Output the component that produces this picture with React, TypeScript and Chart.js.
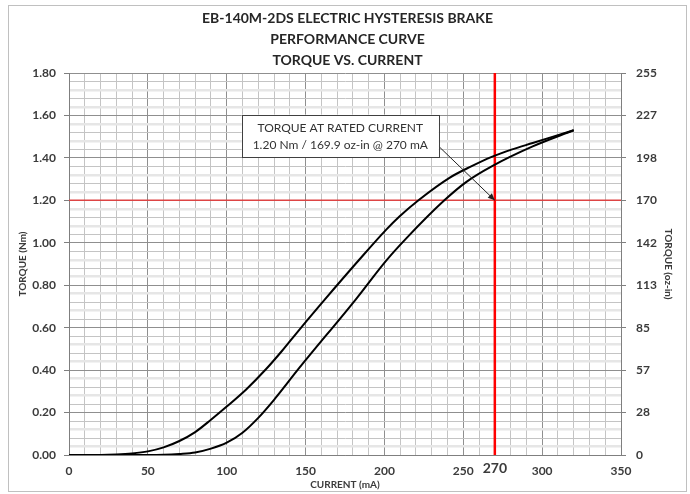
import React, { useEffect, useRef } from "react";
import { Chart, registerables } from "chart.js";

Chart.register(...registerables);

// ---------- data ----------
const titleLines = [
  "EB-140M-2DS ELECTRIC HYSTERESIS BRAKE",
  "PERFORMANCE CURVE",
  "TORQUE VS. CURRENT",
];

// upper branch (decreasing current)
const upperCurrent = [0, 20, 30, 40, 50, 60, 70, 80, 90, 100, 112.5, 125, 135, 146, 162, 184, 201, 209.5, 222, 241, 255, 268, 281, 294, 307, 320];
const upperTorque = [0, 0, 0.002, 0.007, 0.017, 0.036, 0.066, 0.108, 0.166, 0.228, 0.31, 0.405, 0.49, 0.59, 0.731, 0.92, 1.061, 1.124, 1.203, 1.305, 1.36, 1.405, 1.44, 1.47, 1.5, 1.53];

// lower branch (increasing current)
const lowerCurrent = [0, 50, 60, 70, 80, 90, 100, 110, 120, 130, 146, 182, 201, 214, 238, 252, 268, 294, 320];
const lowerTorque = [0, 0, 0.001, 0.005, 0.012, 0.03, 0.058, 0.105, 0.175, 0.26, 0.41, 0.735, 0.915, 1.022, 1.2, 1.287, 1.36, 1.454, 1.53];

const xTickLabels = ["0", "50", "100", "150", "200", "250", "300", "350"];
const leftTickLabels = ["0.00", "0.20", "0.40", "0.60", "0.80", "1.00", "1.20", "1.40", "1.60", "1.80"];
const rightTickLabels = ["0", "28", "57", "85", "113", "142", "170", "198", "227", "255"];

const ratedCurrent = 270;
const ratedTorque = 1.2;
const NM_TO_OZIN = 141.6119;

const annotationLines = ["TORQUE AT RATED CURRENT", "1.20 Nm / 169.9 oz-in @ 270 mA"];
// annotation box placement in data units (mA, Nm)
const annotationBox = { xMin: 109.5, xMax: 234.5, yMin: 1.404, yMax: 1.604 };
const arrowFrom = { x: 234.5, y: 1.454 };

const FONT = "Lato, 'Open Sans', 'DejaVu Sans', sans-serif";
const GRID_DARK = "#8f8f8f";
const GRID_MID = "#c4c4c4";
const GRID_LIGHT = "#e6e6e6";
const TEXT = "#3b3b3b";

const toPoints = (xs: number[], ys: number[]) => xs.map((x, i) => ({ x, y: ys[i] }));

const annotationPlugin = {
  id: "ratedAnnotation",
  afterDatasetsDraw(chart: any) {
    const { ctx, scales } = chart;
    const xs = scales.x;
    const ys = scales.y;
    const l = xs.getPixelForValue(annotationBox.xMin);
    const r = xs.getPixelForValue(annotationBox.xMax);
    const t = ys.getPixelForValue(annotationBox.yMax);
    const b = ys.getPixelForValue(annotationBox.yMin);
    ctx.save();
    // arrow
    const ax0 = xs.getPixelForValue(arrowFrom.x);
    const ay0 = ys.getPixelForValue(arrowFrom.y);
    const ax1 = xs.getPixelForValue(ratedCurrent);
    const ay1 = ys.getPixelForValue(ratedTorque);
    ctx.strokeStyle = "#222";
    ctx.fillStyle = "#222";
    ctx.lineWidth = 1;
    ctx.beginPath();
    ctx.moveTo(ax0, ay0);
    ctx.lineTo(ax1, ay1);
    ctx.stroke();
    const ang = Math.atan2(ay1 - ay0, ax1 - ax0);
    const hl = 7;
    const hw = 3;
    ctx.beginPath();
    ctx.moveTo(ax1, ay1);
    ctx.lineTo(ax1 - hl * Math.cos(ang) + hw * Math.sin(ang), ay1 - hl * Math.sin(ang) - hw * Math.cos(ang));
    ctx.lineTo(ax1 - hl * Math.cos(ang) - hw * Math.sin(ang), ay1 - hl * Math.sin(ang) + hw * Math.cos(ang));
    ctx.closePath();
    ctx.fill();
    // box
    ctx.fillStyle = "#ffffff";
    ctx.fillRect(l, t, r - l, b - t);
    ctx.strokeStyle = "#404040";
    ctx.lineWidth = 1;
    ctx.strokeRect(Math.round(l) + 0.5, Math.round(t) + 0.5, Math.round(r - l), Math.round(b - t));
    ctx.fillStyle = "#333";
    ctx.font = `12px ${FONT}`;
    ctx.textAlign = "center";
    ctx.textBaseline = "middle";
    const cx = (l + r) / 2;
    const h = b - t;
    ctx.fillText(annotationLines[0], cx, t + h * 0.33);
    ctx.fillText(annotationLines[1], cx, t + h * 0.72);

    // rated current label on the x axis
    ctx.fillStyle = TEXT;
    ctx.font = `bold 14px ${FONT}`;
    ctx.textAlign = "center";
    ctx.textBaseline = "middle";
    ctx.fillText(String(ratedCurrent), ax1, chart.chartArea.bottom + 13);
    ctx.restore();
  },
};

export default function App() {
  const canvasRef = useRef<HTMLCanvasElement | null>(null);

  useEffect(() => {
    if (!canvasRef.current) return;
    const chart = new Chart(canvasRef.current, {
      type: "line",
      data: {
        datasets: [
          {
            data: toPoints(upperCurrent, upperTorque),
            borderColor: "#000",
            borderWidth: 2,
            pointRadius: 0,
            cubicInterpolationMode: "monotone",
            fill: false,
          },
          {
            data: toPoints(lowerCurrent, lowerTorque),
            borderColor: "#000",
            borderWidth: 2,
            pointRadius: 0,
            cubicInterpolationMode: "monotone",
            fill: false,
          },
          {
            data: [
              { x: ratedCurrent, y: 0 },
              { x: ratedCurrent, y: 1.8 },
            ],
            borderColor: "#ff0000",
            borderWidth: 2.5,
            pointRadius: 0,
            fill: false,
          },
          {
            data: [
              { x: 0, y: ratedTorque },
              { x: 350, y: ratedTorque },
            ],
            borderColor: "#dd4444",
            borderWidth: 1.5,
            pointRadius: 0,
            fill: false,
          },
        ],
      } as any,
      options: {
        animation: false,
        responsive: false,
        events: [],
        layout: { padding: { left: 0, right: 0, top: 0, bottom: 0 } },
        plugins: {
          legend: { display: false },
          tooltip: { enabled: false },
          title: {
            display: true,
            text: titleLines,
            color: "#262626",
            font: { family: FONT, size: 14, weight: "bold", lineHeight: 1.5 },
            padding: { top: 2, bottom: 2 },
          },
        },
        scales: {
          x: {
            type: "linear",
            min: 0,
            max: 350,
            afterFit: (scale: any) => {
              scale.height = 36;
            },
            ticks: {
              stepSize: 10,
              autoSkip: false,
              maxRotation: 0,
              color: TEXT,
              padding: 4,
              font: { family: FONT, weight: "bold", size: 12, lineHeight: 1.3 },
              callback: (v: any) => {
                const n = Number(v);
                if (n % 50 === 0) return xTickLabels[n / 50];
                return "";
              },
            },
            grid: {
              color: (c: any) => (c.tick && c.tick.value % 50 === 0 ? GRID_DARK : GRID_MID),
              lineWidth: 1,
              drawTicks: true,
              tickLength: 4,
              tickColor: "rgba(0,0,0,0)",
            },
            border: { color: "#7f7f7f", width: 1 },
            title: {
              display: true,
              text: "CURRENT (mA)",
              color: TEXT,
              font: { family: FONT, size: 10, weight: "bold", lineHeight: 1 },
              padding: { top: 0, bottom: 1 },
            },
          },
          y: {
            type: "linear",
            position: "left",
            min: 0,
            max: 1.8,
            afterFit: (scale: any) => {
              scale.width = 60;
            },
            ticks: {
              stepSize: 0.04,
              autoSkip: false,
              color: TEXT,
              padding: 8,
              font: { family: FONT, size: 12, weight: "bold" },
              callback: (_v: any, i: number) => (i % 5 === 0 ? leftTickLabels[i / 5] : ""),
            },
            grid: {
              color: (c: any) => (c.index % 5 === 0 ? GRID_DARK : c.index % 2 === 1 ? GRID_LIGHT : GRID_MID),
              lineWidth: (c: any) => (c.index % 5 === 0 ? 1 : c.index % 2 === 1 ? 2.5 : 1),
              tickLength: 5,
              tickColor: (c: any) => (c.index % 5 === 0 ? "#7f7f7f" : "rgba(0,0,0,0)"),
            },
            border: { color: "#7f7f7f", width: 1 },
            title: {
              display: true,
              text: "TORQUE (Nm)",
              color: TEXT,
              font: { family: FONT, size: 10, weight: "bold" },
              padding: { top: 8, bottom: 2 },
            },
          },
          y2: {
            type: "linear",
            position: "right",
            min: 0,
            max: 1.8 * NM_TO_OZIN,
            afterFit: (scale: any) => {
              scale.width = 65;
            },
            afterBuildTicks: (scale: any) => {
              scale.ticks = leftTickLabels.map((s) => ({ value: Number(s) * NM_TO_OZIN }));
            },
            ticks: {
              autoSkip: false,
              color: TEXT,
              padding: 10,
              font: { family: FONT, size: 12, weight: "bold" },
              callback: (_v: any, i: number) => rightTickLabels[i],
            },
            grid: {
              drawOnChartArea: false,
              tickLength: 5,
              tickColor: "#7f7f7f",
            },
            border: { color: "#7f7f7f", width: 1 },
            title: {
              display: true,
              text: "TORQUE (oz-in)",
              color: TEXT,
              font: { family: FONT, size: 10, weight: "bold" },
              padding: { top: 12, bottom: 2 },
            },
          },
        },
      } as any,
      plugins: [annotationPlugin],
    });
    return () => chart.destroy();
  }, []);

  return (
    <div
      style={{
        position: "absolute",
        left: 8,
        top: 5,
        width: 679,
        height: 487,
        border: "1px solid #c0c0c0",
        boxSizing: "border-box",
        background: "#fff",
      }}
    >
      <canvas ref={canvasRef} width={677} height={485} style={{ display: "block" }} />
    </div>
  );
}
